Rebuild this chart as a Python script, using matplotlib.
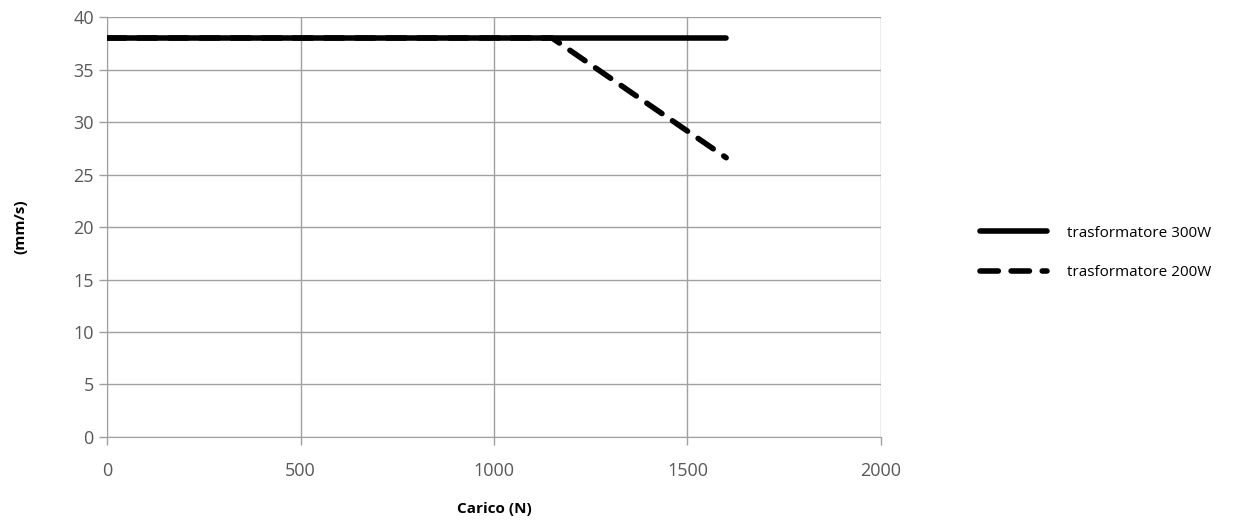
import matplotlib
matplotlib.use('Agg')
import matplotlib.pyplot as plt

plt.rcParams['font.family'] = ['Open Sans', 'DejaVu Sans']

# dati
carico_300 = [0, 1600]
vel_300 = [38, 38]
carico_200 = [0, 1150, 1600]
vel_200 = [38, 38, 26.6]
labels = ['trasformatore 300W', 'trasformatore 200W']

fig = plt.figure(figsize=(12.42, 5.27), dpi=100)
ax = fig.add_axes([0.0862, 0.1708, 0.6231, 0.7969])

ax.plot(carico_300, vel_300, color='black', lw=4, solid_capstyle='round', label=labels[0], zorder=3)
ax.plot(carico_200, vel_200, color='black', lw=4, ls=(0, (3.3, 2.3)), dash_capstyle='round', label=labels[1], zorder=3)

ax.set_xlim(0, 2000)
ax.set_ylim(0, 40)
ax.set_xticks(range(0, 2001, 500))
ax.set_yticks(range(0, 41, 5))
ax.grid(True, color='#a0a0a0', lw=1)
ax.set_axisbelow(True)
for s in ['top', 'right']:
    ax.spines[s].set_visible(False)
for s in ['left', 'bottom']:
    ax.spines[s].set_color('#a0a0a0')
ax.tick_params(colors='#a0a0a0', labelcolor='#595959', labelsize=13, length=6, width=1)
ax.tick_params(axis='x', pad=12)

ax.set_xlabel('Carico (N)', fontsize=11, fontweight='bold', labelpad=16)
ax.set_ylabel('(mm/s)', fontsize=11, fontweight='bold', labelpad=33)

leg = fig.legend(loc='center left', bbox_to_anchor=(0.778, 0.52), frameon=False,
                 fontsize=11, handlelength=4.4, labelspacing=1.6, handletextpad=1.3)

plt.savefig('out.png')
